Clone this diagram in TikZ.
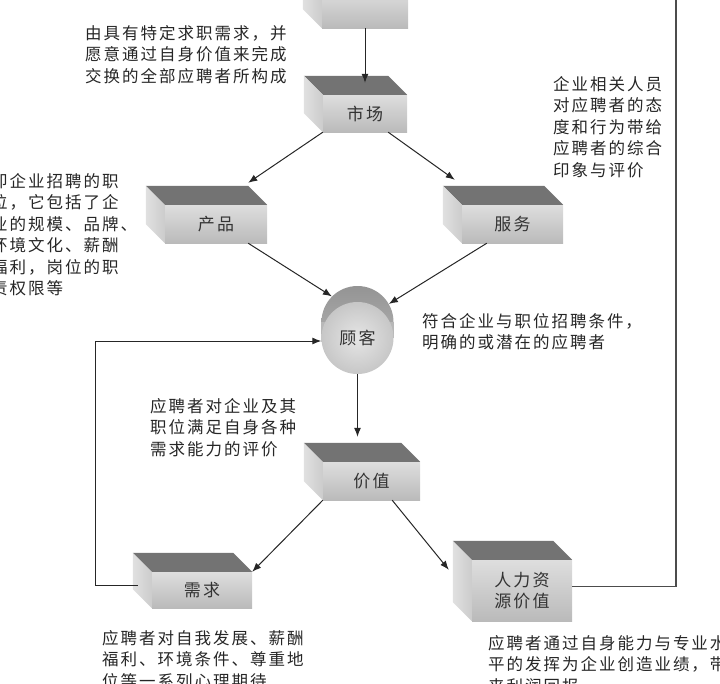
\documentclass[tikz,border=0pt]{standalone}
\usepackage{fontspec}
\setmainfont{Noto Sans CJK SC}
\newfontfamily\cnfont[LetterSpace=12]{Noto Sans CJK SC}
\usetikzlibrary{calc,arrows.meta}

\begin{document}
\begin{tikzpicture}[x=1pt, y=1pt, >={Latex[length=9pt,width=7pt]},
  front/.style={shade, top color=black!13, bottom color=black!27, inner sep=0pt,
    minimum width=100pt, minimum height=38pt, align=center, text=black!80,
    font=\cnfont\fontsize{17}{21}\selectfont},
  boxtop/.style={fill=black!55},
  boxside/.style={left color=black!12, right color=black!20},
  desc/.style={anchor=north west, align=left, inner sep=0pt, text=black!85,
    font=\cnfont\fontsize{16.5}{21.5}\selectfont},
  link/.style={->, line width=1pt, draw=black!85},
  line/.style={line width=1.2pt, draw=black!70}]
\useasboundingbox (0,0) rectangle (720,-683);
\clip (0,0) rectangle (720,-683);

% boxes
\node[front, minimum width=86pt] (topbox) at (365,-9) {};
\node[front, minimum width=84pt, minimum height=37pt] (market) at (365,-113.5) {市场};
\node[front, minimum width=102pt] (product) at (216,-224) {产品};
\node[front, minimum width=101pt] (service) at (512.5,-224) {服务};
\node[front, minimum width=97pt] (value) at (371.5,-481) {价值};
\node[front, minimum height=36pt] (need) at (202,-590) {需求};
\node[front, minimum height=61pt] (hrvalue) at (522,-590.5) {人力资\\源价值};

\foreach \b in {topbox, market, product, service, value, need, hrvalue} {
  \fill[boxtop] (\b.north west) -- ++(-19,19) -- ($(\b.north east)+(-19,19)$) -- (\b.north east) -- cycle;
  \shade[boxside] (\b.north west) -- ++(-19,19) -- ($(\b.south west)+(-19,19)$) -- (\b.south west) -- cycle;
}

% customer cylinder
\node[circle, minimum size=72pt, inner sep=0pt, top color=black!42, bottom color=black!28] (gukeback) at (357.5,-322) {};
\fill[black!28] (gukeback.west) rectangle ($(gukeback.east)+(0,-16)$);
\node[circle, minimum size=72pt, inner sep=0pt, inner color=black!10, outer color=black!22,
  text=black!80, font=\cnfont\fontsize{17}{21}\selectfont] (guke) at (357.5,-338) {顾客};

% descriptions
\node[desc] (marketdesc) at (85,-25) {由具有特定求职需求，并\\愿意通过自身价值来完成\\交换的全部应聘者所构成};
\node[desc] (productdesc) at (-9,-173) {即企业招聘的职\\位，它包括了企\\业的规模、品牌、\\环境文化、薪酬\\福利，岗位的职\\责权限等};
\node[desc] (servicedesc) at (553,-76) {企业相关人员\\对应聘者的态\\度和行为带给\\应聘者的综合\\印象与评价};
\node[desc] (gukedesc) at (422,-313) {符合企业与职位招聘条件，\\明确的或潜在的应聘者};
\node[desc] (valuedesc) at (150,-398) {应聘者对企业及其\\职位满足自身各种\\需求能力的评价};
\node[desc] (needdesc) at (102,-630) {应聘者对自我发展、薪酬\\福利、环境条件、尊重地\\位等一系列心理期待};
\node[desc] (hrdesc) at (488,-635) {应聘者通过自身能力与专业水\\平的发挥为企业创造业绩，带\\来利润回报};

% connectors
\draw[link] (topbox.south) -- ($(market.north)+(0,12)$);
\draw[link] (market.south west) -- ($(product.north east)+(-19,22)$);
\draw[link] ($(market.south east)+(-19,0)$) -- ($(service.north west)+(-7,25)$);
\draw[link] ($(product.south east)+(-19,0)$) -- (gukeback.135);
\draw[link] ($(service.south west)+(25,0)$) -- (gukeback.30);
\draw[link] (guke.south) -- ($(value.north)+(-14,25)$);
\draw[link] (value.south west) -- (need.north east);
\draw[link] ($(value.south east)+(-28,0)$) -- ($(hrvalue.north west)+(-23,-10)$);
\draw[link] ($(need.west)+(-14,5)$) -- ++(-42,0) |- ($(guke.west)+(0,-3)$);
\coordinate (hrtop) at (676,5);
\draw[line] ($(hrvalue.east)+(0,4)$) -| (hrtop);

\end{tikzpicture}
\end{document}
